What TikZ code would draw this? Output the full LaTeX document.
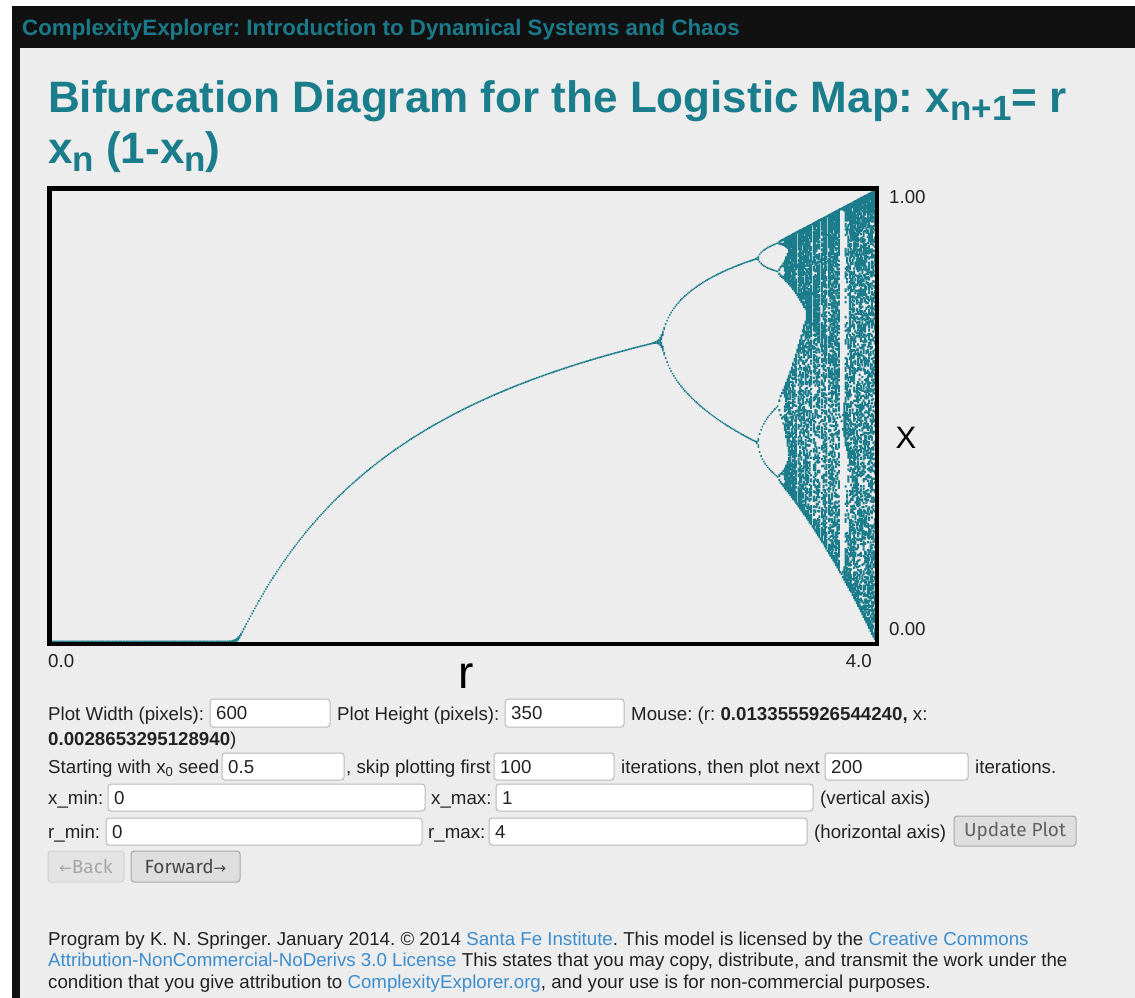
\documentclass[tikz,border=0pt]{standalone}
\usepackage{fontspec}
\setmainfont{Liberation Sans}
\newfontfamily\btnfont{Fira Sans}
\newfontfamily\symfont{DejaVu Sans}
\frenchspacing
\definecolor{pagebg}{HTML}{EDEDED}
\definecolor{barblack}{HTML}{111111}
\definecolor{titleteal}{HTML}{1A7D8C}
\definecolor{barteal}{HTML}{1B7A8A}
\definecolor{dotteal}{HTML}{1B7C8C}
\definecolor{linkblue}{HTML}{3B8DCF}
\definecolor{bodytext}{HTML}{222222}
\definecolor{boxborder}{HTML}{B8B8B8}
\definecolor{btnborder}{HTML}{A8A8A8}
\definecolor{btnfill}{HTML}{DEDEDE}
\newcount\bifx \newcount\bifr \newcount\bifn \newcount\bifm \newcount\bifs \newcount\bifpx
\newdimen\bifdy \newdimen\bifw \newdimen\bifh
\def\bifstep{\bifx=\numexpr\bifx*(1000000000-\bifx)/1000000000\relax
  \bifx=\numexpr\bifx*\bifr/100000000\relax}
\def\bifdot{\bifdy=\dimexpr\numexpr\bifx*29556736/1000000000\relax sp-641.5pt-0.5\bifh\relax
  \pgfpathrectangle{\pgfqpoint{\bifpx sp}{\bifdy}}{\pgfqpoint{\bifw}{\bifh}}}
\newcommand\tsub[1]{\raisebox{-8pt}{\fontsize{35}{35}\selectfont #1}}
\tikzset{
  lbl/.style={anchor=base west, inner sep=0pt, text=bodytext, font=\fontsize{18.7}{22}\selectfont},
  inbox/.style={draw=boxborder, fill=white, rounded corners=3pt, line width=1pt},
  btnbox/.style={draw=btnborder, fill=btnfill, rounded corners=3pt, line width=1pt},
  btntext/.style={anchor=center, inner sep=0pt, font=\btnfont\fontsize{19}{21}\selectfont},
  ticklbl/.style={inner sep=0pt, text=bodytext, font=\fontsize{18.7}{22}\selectfont},
}
\newcommand\field[6]{\path[inbox] (#2,#3) rectangle (#4,#5);
  \node[lbl] (#1) at ({#2+6},{(#3+#5)/2+6.5}) {#6};}
\newcommand\btn[7]{\path[btnbox] (#2,#3) rectangle (#4,#5);
  \node[btntext, text=#6] (#1) at ({(#2+#4)/2},{(#3+#5)/2}) {#7};}
\begin{document}
\begin{tikzpicture}[x=1pt,y=-1pt]
\useasboundingbox (0,0) rectangle (1135,998);
\fill[white] (0,0) rectangle (1135,998);
\fill[barblack] (12,6) rectangle (1135,998);
\fill[pagebg] (20,48) rectangle (1135,998);
% header bar
\node[anchor=base west, inner sep=0pt, text=barteal, font=\bfseries\fontsize{22.3}{24}\selectfont] (bar) at (22,36)
  {ComplexityExplorer: Introduction to Dynamical Systems and Chaos};
% title
\node[anchor=base west, inner sep=0pt, text=titleteal, font=\bfseries\fontsize{44}{48}\selectfont] (t1) at (48,112)
  {Bifurcation Diagram for the Logistic Map: x\tsub{n+1}= r};
\node[anchor=base west, inner sep=0pt, text=titleteal, font=\bfseries\fontsize{44}{48}\selectfont] (t2) at (48,163)
  {x\tsub{n} (1-x\tsub{n})};
% bifurcation dots
\begin{scope}
\pgfsetfillcolor{dotteal}
\foreach \c in {0,...,597}{%
  \bifpx=\numexpr3139174+\c*90657\relax
  \bifr=\numexpr(\bifpx-1618739)*100000000/13926400\relax
  \bifx=500000000 \bifn=0
  \loop\ifnum\bifn<100 \bifstep\advance\bifn by1 \repeat
  \ifnum\bifr<354000000 \bifs=5 \bifw=1.5pt \bifh=1.6pt \else \bifs=1 \bifw=2.0pt \bifh=2.3pt \fi
  \bifm=\bifs \bifn=0
  \loop\ifnum\bifn<200 \bifstep\advance\bifm by-1
    \ifnum\bifm=0 \bifm=\bifs\relax\bifdot\fi
    \advance\bifn by1 \repeat
  \pgfusepath{fill}%
}
\end{scope}
% plot frame
\draw[line width=4.5pt, black] (49.25,188.25) rectangle (876.75,643.75);
\node[ticklbl, anchor=base west] (y1) at (889,203) {1.00};
\node[ticklbl, anchor=base west] (y0) at (889,635) {0.00};
\node[ticklbl, anchor=base west] (x0) at (48,667) {0.0};
\node[ticklbl, anchor=base east] (x4) at (872,667) {4.0};
\node[inner sep=0pt, text=black, font=\fontsize{31}{34}\selectfont, anchor=base] (xl) at (906,448) {X};
\node[inner sep=0pt, text=black, font=\fontsize{46}{50}\selectfont, anchor=base] (rl) at (466,688) {r};
% row 1
\node[lbl] (l1) at (48,720) {Plot Width (pixels):};
\field{f1}{210}{699}{330}{727}{600}
\node[lbl] (l2) at (337,720) {Plot Height (pixels):};
\field{f2}{505}{699}{624}{727}{350}
\node[lbl] (l3) at (631,720) {Mouse: (r: \textbf{0.0133555926544240,} x:};
\node[lbl] (l4) at (48,745) {\textbf{0.0028653295128940})};
% row 3
\node[lbl] (l5) at (48,773) {Starting with x\textsubscript{0} seed};
\field{f3}{222}{753}{344}{780}{0.5}
\node[lbl] (l6) at (346,773) {, skip plotting first};
\field{f4}{494}{753}{614}{780}{100}
\node[lbl] (l7) at (621,773) {iterations, then plot next};
\field{f5}{825}{753}{968}{780}{200}
\node[lbl] (l8) at (975,773) {iterations.};
% row 4
\node[lbl] (l9) at (48,804) {x\_min:};
\field{f6}{108}{784}{425}{811}{0}
\node[lbl] (l10) at (431,804) {x\_max:};
\field{f7}{496}{784}{813}{811}{1}
\node[lbl] (l11) at (820,804) {(vertical axis)};
% row 5
\node[lbl] (l12) at (48,838) {r\_min:};
\field{f8}{106}{818}{422}{845}{0}
\node[lbl] (l13) at (428,838) {r\_max:};
\field{f9}{489}{818}{807}{845}{4}
\node[lbl] (l14) at (814,838) {(horizontal axis)};
\btn{bu}{954}{816}{1076}{846}{black!62}{Update Plot}
% row 6
\path[draw=black!18, fill=pagebg!96!black, rounded corners=3pt, line width=1pt] (48,851) rectangle (124,882);
\node[btntext, text=black!35] (bb) at (86,866.5) {{\symfont\fontsize{15}{18}\selectfont ←}Back};
\btn{bf}{131}{851}{240}{882}{black!72}{Forward{\symfont\fontsize{15}{18}\selectfont →}}
% footer
\node[lbl] (ft1) at (48,945) {Program by K. N. Springer. January 2014. © 2014 \textcolor{linkblue}{Santa Fe Institute}. This model is licensed by the \textcolor{linkblue}{Creative Commons}};
\node[lbl] (ft2) at (48,966.5) {\textcolor{linkblue}{Attribution-NonCommercial-NoDerivs 3.0 License} This states that you may copy, distribute, and transmit the work under the};
\node[lbl] (ft3) at (48,988) {condition that you give attribution to \textcolor{linkblue}{ComplexityExplorer.org}, and your use is for non-commercial purposes.};
\end{tikzpicture}
\end{document}
